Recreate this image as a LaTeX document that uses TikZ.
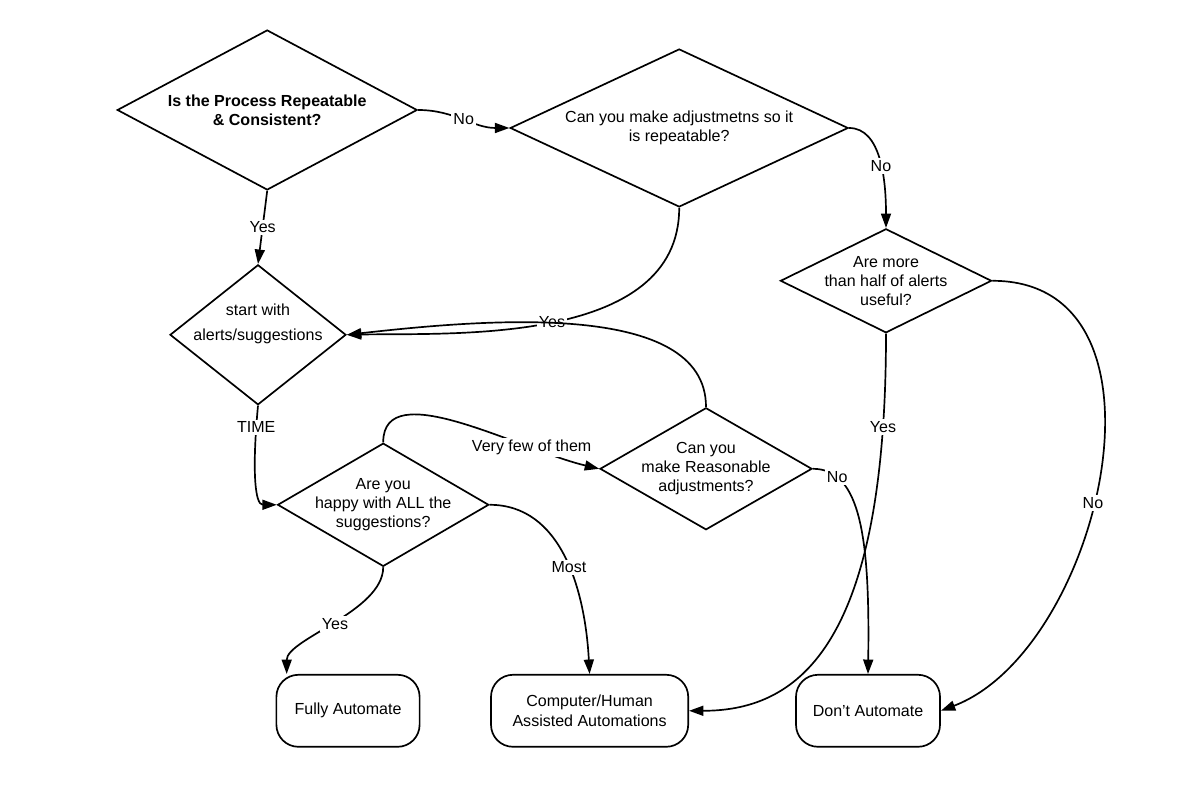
\documentclass[tikz,border=0pt]{standalone}
\usepackage{fontspec}
\setmainfont{Liberation Sans}
\usepackage{tikz}
\usetikzlibrary{positioning,arrows.meta,shapes.geometric}

\begin{document}
\begin{tikzpicture}[
    every node/.style={font=\fontsize{11.4}{13.6}\selectfont},
    decision/.style={diamond, draw, line width=1.2pt, inner sep=-40pt, align=center},
    outcome/.style={rectangle, draw, line width=1.2pt, rounded corners=0.55cm,
        minimum height=1.8cm, inner sep=0pt, align=center},
    flow/.style={draw, line width=1.2pt, -{Triangle[length=3.6mm,width=2.5mm]}},
    lbl/.style={fill=white, inner sep=1.5pt},
]
\useasboundingbox (0,0) rectangle (29.45,19.7);

% =====================================================================
% Decisions
% =====================================================================
\node[decision, minimum width=7.5cm, minimum height=4cm] (repeat) at (6.68,16.95)
    {\bfseries Is the Process Repeatable\\\bfseries \& Consistent?};
\node[decision, minimum width=8.45cm, minimum height=3.95cm] (adjust) at (16.98,16.5)
    {Can you make adjustmetns so it\\is repeatable?};
\node[decision, minimum width=4.4cm, minimum height=3.5cm] (start) at (6.45,11.33)
    {start with\\[4pt]alerts/suggestions\\[4pt]~};
\node[decision, minimum width=5.28cm, minimum height=3.08cm] (happy) at (9.58,7.08)
    {Are you\\happy with ALL the\\suggestions?};
\node[decision, minimum width=5.3cm, minimum height=3.05cm] (reason) at (17.65,7.98)
    {Can you\\make Reasonable\\adjustments?};
\node[decision, minimum width=5.28cm, minimum height=2.6cm] (useful) at (22.15,12.68)
    {Are more\\than half of alerts\\useful?};

% =====================================================================
% Outcomes
% =====================================================================
\node[outcome, minimum width=3.58cm] (fully) at (8.7,1.93) {Fully Automate};
\node[outcome, minimum width=4.93cm] (assist) at (14.74,1.93)
    {Computer/Human\\Assisted Automations};
\node[outcome, minimum width=3.6cm] (dont) at (21.7,1.93) {Don't Automate};

% =====================================================================
% Connectors
% =====================================================================
\draw[flow] (repeat.east) to[out=0,in=180] node[lbl]{No} (adjust.west);
\draw[flow] (repeat.south) -- node[lbl]{Yes} (start.north);
\draw[flow] (adjust.east) .. controls +(0.8,0) and +(0,1.2) ..
    node[lbl,pos=0.55]{No} (useful.north);
\draw[flow] (adjust.south) .. controls +(0,-3.45) and +(2.6,0.05) ..
    node[lbl]{Yes} (start.east);
\draw[flow] (reason.north) .. controls +(0,2.7) and +(3.35,0.375) .. (start.east);
\draw[flow] (start.south) .. controls +(-0.15,-1.6) and +(-0.55,0) ..
    node[lbl,pos=0.12]{TIME} (happy.west);
\draw[flow] (happy.north) .. controls +(0,1.7) and +(-2,0.475) ..
    node[lbl,pos=0.75]{Very few of them} (reason.west);
\draw[flow] (happy.east) .. controls +(1.78,0) and +(-0.115,2.125) ..
    node[lbl,pos=0.55]{Most} (assist.north);
\draw[flow] (happy.south) .. controls +(0,-1.1) and +(0,0.875) ..
    node[lbl]{Yes} (fully.149);
\draw[flow] (reason.east) .. controls +(1.2,0) and +(0.05,3.375) ..
    node[lbl,pos=0.2]{No} (dont.north);
\draw[flow] (useful.south) .. controls +(0,-7.7) and +(2.8,0) ..
    node[lbl,pos=0.11]{Yes} (assist.east);
\draw[flow] (useful.east) .. controls +(4.85,0) and +(4,1.525) ..
    node[lbl,pos=0.55]{No} (dont.east);

\end{tikzpicture}
\end{document}
